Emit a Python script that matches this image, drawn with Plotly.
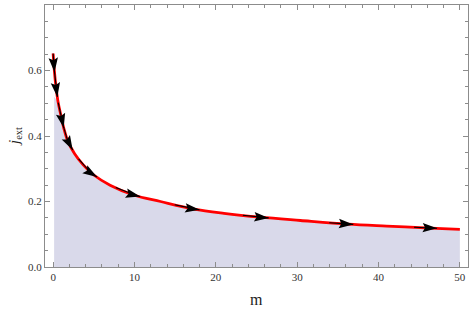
import numpy as np
import plotly.graph_objects as go

# ---- data ----
m_vals = [0.0, 0.15, 0.35, 0.6, 0.94, 1.3, 1.78, 2.64, 3.7, 5.0, 7.0, 9.9,
          13.2, 17.3, 21.0, 25.5, 30.4, 36.2, 41.0, 46.4, 50.0]
j_vals = [0.652, 0.60, 0.55, 0.505, 0.465, 0.425, 0.386, 0.346, 0.312, 0.281,
          0.25, 0.22, 0.20, 0.177, 0.164, 0.152, 0.142, 0.131, 0.125, 0.119, 0.115]
# shaded region under the curve (starts a little below the curve top)
fill_start_m = 0.12
fill_start_j = 0.52
# arrow tip positions along the curve (m values)
arrow_m = [0.17, 0.52, 1.3, 2.4, 5.4, 10.7, 18.0, 26.5, 36.9, 47.2]

x_ticks = [0, 10, 20, 30, 40, 50]
y_ticks = [0.0, 0.2, 0.4, 0.6, 0.8]

# ---- layout geometry ----
W, H = 469, 309
ML, MR, MT, MB = 45, 1, 5, 42
XR = [-1, 51]
YR = [0, 0.8001]
PW = W - ML - MR
PH = H - MT - MB
sx = PW / (XR[1] - XR[0])
sy = PH / (YR[1] - YR[0])

mv = np.array(m_vals)
jv = np.array(j_vals)

def jat(m):
    return float(np.interp(m, mv, jv))

fig = go.Figure()

# shaded area
mask = mv > 0.5
fx = [fill_start_m, fill_start_m] + list(mv[mask]) + [mv[-1]]
fy = [0, fill_start_j] + list(jv[mask]) + [0]
fig.add_trace(go.Scatter(x=fx, y=fy, mode="lines", fill="toself",
                         fillcolor="#D9D9EA", line=dict(width=0),
                         hoverinfo="skip", showlegend=False))

# red curve
fig.add_trace(go.Scatter(x=m_vals, y=j_vals, mode="lines",
                         line=dict(color="#FF0000", width=2.8, shape="spline"),
                         showlegend=False))

# arrows: thin black shaft + filled arrowhead
shaft_x, shaft_y = [], []
shapes = []
L, HW, NOTCH = 14.5, 4.7, 2.5
for mt in arrow_m:
    jt = jat(mt)
    d = max(0.03, 0.03 * mt)
    m0 = max(mv[0], mt - d)
    dx = (mt - m0) * sx
    dy = (jt - jat(m0)) * sy
    n = np.hypot(dx, dy)
    ux, uy = dx / n, dy / n
    # shaft: walk back along curve ~26 px
    mb = mt
    while mb > mv[0]:
        mb2 = mb - 0.01 * max(0.2, mt)
        if np.hypot((mt - mb2) * sx, (jt - jat(mb2)) * sy) > 26:
            break
        mb = mb2
    seg = np.linspace(max(mb, mv[0]), mt, 8)
    shaft_x += list(seg) + [None]
    shaft_y += [jat(s) for s in seg] + [None]
    nx, ny = -uy, ux
    c1 = (-L * ux + HW * nx, -L * uy + HW * ny)
    c2 = (-L * ux - HW * nx, -L * uy - HW * ny)
    nc = (-(L - NOTCH) * ux, -(L - NOTCH) * uy)
    path = "M0,0 L{:.2f},{:.2f} L{:.2f},{:.2f} L{:.2f},{:.2f} Z".format(
        c1[0], c1[1], nc[0], nc[1], c2[0], c2[1])
    shapes.append(dict(type="path", xref="x", yref="y", xsizemode="pixel",
                       ysizemode="pixel", xanchor=mt, yanchor=jt, path=path,
                       fillcolor="black", line=dict(width=0), layer="above"))

fig.add_trace(go.Scatter(x=shaft_x, y=shaft_y, mode="lines",
                         line=dict(color="black", width=1.1),
                         hoverinfo="skip", showlegend=False))

FONT = "Liberation Serif"
axis_common = dict(showgrid=False, zeroline=False, showline=True,
                   linecolor="#8c8c8c", linewidth=1, mirror="ticks",
                   ticks="inside", ticklen=5, tickcolor="#8c8c8c", tickwidth=1,
                   automargin=False,
                   tickfont=dict(family=FONT, size=11, color="#333333"))

fig.update_layout(
    width=W, height=H,
    margin=dict(l=ML, r=MR, t=MT, b=MB, autoexpand=False),
    paper_bgcolor="white", plot_bgcolor="white",
    shapes=shapes,
    xaxis=dict(range=XR, tickvals=x_ticks, ticktext=[str(v) for v in x_ticks],
               minor=dict(dtick=2, tick0=0, ticks="inside", ticklen=3,
                          tickcolor="#8c8c8c"),
               **axis_common),
    yaxis=dict(range=YR, tickvals=y_ticks,
               ticktext=["{:.1f}".format(v) for v in y_ticks],
               minor=dict(dtick=0.05, tick0=0, ticks="inside", ticklen=3,
                          tickcolor="#8c8c8c"),
               **axis_common),
    annotations=[
        dict(text="m", xref="paper", yref="paper", x=0.501, y=-0.125,
             showarrow=False, font=dict(family=FONT, size=16, color="#222222"),
             xanchor="center", yanchor="middle"),
        dict(text="<i>j</i><sub>ext</sub>", xref="paper", yref="paper",
             x=-0.071, y=0.50, textangle=-90, showarrow=False,
             font=dict(family=FONT, size=15, color="#222222"),
             xanchor="center", yanchor="middle"),
    ],
)

fig.write_html("out.html",
               config={"displayModeBar": False},
               post_script="document.body.style.margin='0';"
                           "document.body.style.overflow='hidden';")
